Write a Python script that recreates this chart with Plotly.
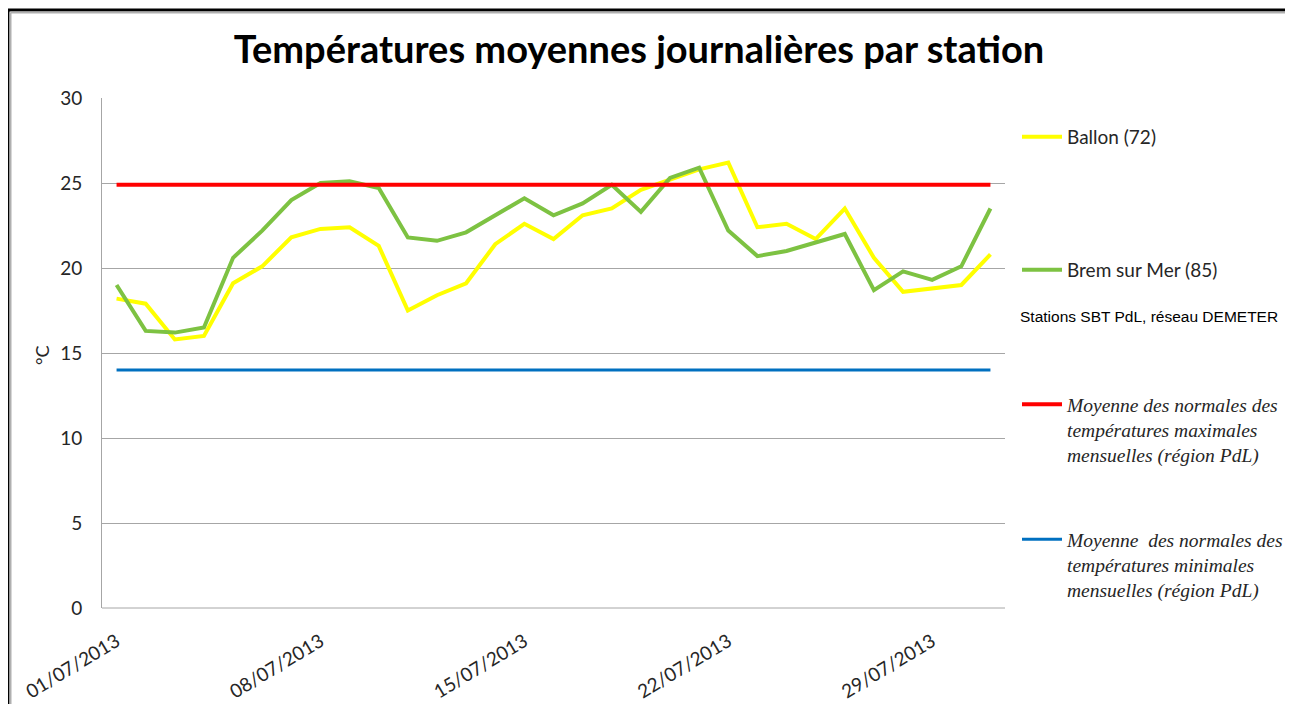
import plotly.graph_objects as go

# ---- data ----
dates = [f"2013-07-{d:02d}" for d in range(1, 32)]
ballon = [18.2, 17.9, 15.8, 16.0, 19.1, 20.1, 21.8, 22.3, 22.4, 21.3, 17.5,
          18.4, 19.1, 21.4, 22.6, 21.7, 23.1, 23.5, 24.6, 25.2, 25.8, 26.2,
          22.4, 22.6, 21.7, 23.5, 20.6, 18.6, 18.8, 19.0, 20.8]
brem = [19.0, 16.3, 16.2, 16.5, 20.6, 22.2, 24.0, 25.0, 25.1, 24.7, 21.8,
        21.6, 22.1, 23.1, 24.1, 23.1, 23.8, 24.9, 23.3, 25.3, 25.9, 22.2,
        20.7, 21.0, 21.5, 22.0, 18.7, 19.8, 19.3, 20.1, 23.5]
normale_max = 24.9
normale_min = 14.0
tick_labels = ["01/07/2013", "08/07/2013", "15/07/2013", "22/07/2013", "29/07/2013"]
tick_vals = [f"{t[6:10]}-{t[3:5]}-{t[0:2]}" for t in tick_labels]
y_ticks = [0, 5, 10, 15, 20, 25, 30]

# ---- geometry helpers (screen pixels -> paper); page body has an 8px offset ----
OFF = 8
W, H = 1293 - OFF, 704 - OFF
L, T = 102 - OFF, 98 - OFF
PW, PH = 1005 - 102, 608 - 98
R = W - L - PW
B = H - T - PH
def px(x):
    return (x - 102) / PW
def py(y):
    return (608 - y) / PH

legend_font = dict(family="Lato, Open Sans, sans-serif", size=19, color="#262626")
serif_font = dict(family="Liberation Serif, DejaVu Serif, serif", size=19.5, color="#262626")

fig = go.Figure()
fig.add_trace(go.Scatter(x=dates, y=ballon, mode="lines", name="Ballon (72)",
                         line=dict(color="#FFFF00", width=4), legend="legend"))
fig.add_trace(go.Scatter(x=dates, y=brem, mode="lines", name="Brem sur Mer (85)",
                         line=dict(color="#7DC242", width=4), legend="legend2"))
fig.add_trace(go.Scatter(x=dates, y=[normale_max] * len(dates), mode="lines",
                         name="<i>Moyenne des normales des<br>températures maximales<br>mensuelles (région PdL)</i>",
                         line=dict(color="#FF0000", width=4), legend="legend3"))
fig.add_trace(go.Scatter(x=dates, y=[normale_min] * len(dates), mode="lines",
                         name="<i>Moyenne  des normales des<br>températures minimales<br>mensuelles (région PdL)</i>",
                         line=dict(color="#0070C0", width=3), legend="legend4"))

common_leg = dict(xanchor="left", bgcolor="rgba(0,0,0,0)", borderwidth=0,
                  itemwidth=40, valign="top")
LEGX = px(1017)
fig.update_layout(
    width=W, height=H,
    margin=dict(l=L, r=R, t=T, b=B, autoexpand=False),
    paper_bgcolor="white", plot_bgcolor="white",
    showlegend=True,
    title=dict(text="<b>Températures moyennes journalières par station</b>",
               x=(639 - OFF) / W, xref="container", xanchor="center",
               y=1 - (50 - OFF) / H, yref="container", yanchor="middle",
               font=dict(family="Lato, Open Sans, sans-serif", size=38, color="black")),
    legend=dict(x=LEGX, y=py(137), yanchor="middle", font=legend_font, **common_leg),
    legend2=dict(x=LEGX, y=py(270), yanchor="middle", font=legend_font, **common_leg),
    legend3=dict(x=LEGX, y=py(385), yanchor="top", font=serif_font, **common_leg),
    legend4=dict(x=LEGX, y=py(520), yanchor="top", font=serif_font, **common_leg),
    xaxis=dict(type="date", range=["2013-06-30 12:00", "2013-07-31 12:00"],
               tickvals=tick_vals, ticktext=tick_labels, tickangle=-31,
               showgrid=False, zeroline=False, showline=False, ticks="",
               ticklabelstandoff=18,
               tickfont=dict(family="Lato, Open Sans, sans-serif", size=19, color="#262626")),
    yaxis=dict(range=[0, 30], tickvals=y_ticks, showgrid=True, gridcolor="#A6A6A6",
               gridwidth=1, zeroline=False, showline=True, linecolor="#A6A6A6",
               linewidth=1, ticks="", ticklabelstandoff=15,
               tickfont=dict(family="Lato, Open Sans, sans-serif", size=19, color="#262626")),
    annotations=[
        dict(text="°C", x=px(29), y=py(355), xref="paper", yref="paper",
             showarrow=False, textangle=-90,
             font=dict(family="Lato, Open Sans, sans-serif", size=18, color="#262626")),
        dict(text="Stations SBT PdL, réseau DEMETER", x=px(1018), y=py(316),
             xref="paper", yref="paper", xanchor="left", yanchor="middle",
             showarrow=False,
             font=dict(family="Liberation Sans, Arial, sans-serif", size=15.5, color="black")),
    ],
    shapes=[
        dict(type="line", xref="paper", yref="paper", x0=px(8), x1=px(1300),
             y0=py(10), y1=py(10), line=dict(color="black", width=3)),
        dict(type="line", xref="paper", yref="paper", x0=px(8), x1=px(8),
             y0=py(10), y1=py(720), line=dict(color="black", width=3)),
        dict(type="line", xref="paper", yref="paper", x0=px(10.5), x1=px(1300),
             y0=py(12.5), y1=py(12.5), line=dict(color="#B0B0B0", width=2)),
        dict(type="line", xref="paper", yref="paper", x0=px(10.5), x1=px(10.5),
             y0=py(12.5), y1=py(720), line=dict(color="#B0B0B0", width=2)),
        dict(type="line", xref="paper", yref="paper", x0=0, x1=1, y0=0, y1=0,
             line=dict(color="#A6A6A6", width=1)),
    ],
)

fig.write_html("out.html")
